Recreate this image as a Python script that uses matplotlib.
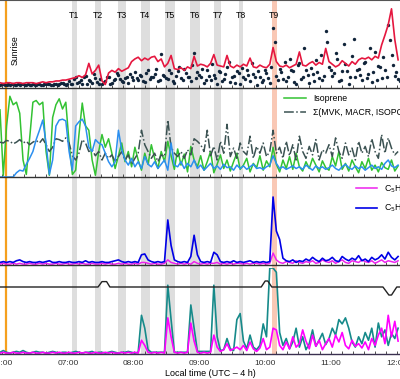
import numpy as np
import matplotlib
matplotlib.use("Agg")
import matplotlib.pyplot as plt
from matplotlib.ticker import MultipleLocator, FixedLocator

plt.rcParams['font.family'] = ['Liberation Sans', 'DejaVu Sans']

# time grid (hours, local time), 3-min steps
t = 5.97 + 0.05 * np.arange(122)

# panel 1: red line and dots (arbitrary units, % of panel)
red = [6,5,6,6,5,6,6,5,6,6, 6,5,6,7,6,7,7,8,8,9,
       9,10,11,12,14,12,15,28,16,20, 26,8,4,17,20,18,22,19,21,23,
       30,33,35,31,34,32,35,36,30,33, 24,28,37,22,21,23,20,24,22,36,
       25,27,26,24,28,38,26,25,24,37, 25,23,26,24,27,25,34,24,23,26,
       24,23,27,46,30,25,24,26,23,25, 27,41,26,25,28,30,26,29,27,45,
       30,27,24,26,31,28,25,30,27,32, 34,33,35,32,36,34,49,60,72,90,
       55,32]
dots_a = [3,4,3,3,4,3,3,4,3,3,4,3,4,3,4,4,3,5,4,6,3,
          8,5,12,7,4,14,9,6,11,5, 4,8,13,6,10,15,8,11,6,12,
          18,9,14,7,20,12,16,8,39,14, 10,17,6,19,11,22,13,8,40,18,
          12,6,20,9,15,4,18,10,24,7, 14,19,5,12,21,8,16,3,13,9,
          17,6,68,14,22,10,8,33,19,5, 28,12,20,6,16,32,11,9,65,24,
          14,40,8,19,27,5,36,12,22,9, 30,16,7,41,25,11,20,72,38,14,10]
dots_b = [4,3,4,4,3,4,5,3,4,3,3,4,3,5,4,3,4,3,6,4,5,
          4,10,6,9,13,5,8,16,7,10, 7,12,5,9,17,10,7,13,16,9,
          11,15,8,17,10,13,22,9,15,11, 20,8,14,24,9,17,12,26,11,15,
          22,9,14,27,11,19,8,16,30,12, 6,17,23,10,15,28,12,19,7,20,
          11,24,52,9,18,29,13,21,7,26, 10,45,15,23,8,18,38,14,52,20,
          17,33,9,50,19,12,56,21,15,28, 11,45,18,9,24,35,13,55,26,18,8]

# panel 2
isoprene = [79,2,60,95,85,88,75,20,3,45, 88,90,85,88,30,2,70,85,92,80,
            88,40,3,8,50,87,60,55,20,2, 30,50,35,45,28,10,25,40,18,30,
            12,35,20,8,28,15,38,22,10,30, 18,42,25,9,33,14,27,6,36,20,
            12,25,8,18,30,5,15,26,10,20, 7,18,28,9,14,22,6,16,11,25,
            8,19,12,35,15,6,20,10,24,9, 28,12,7,18,10,22,14,6,19,11,
            8,24,13,30,9,16,7,20,12,5, 18,10,22,8,14,6,17,11,9,20,7,13]
blue2 = [0,0,0,0,0,5,8,7,15,22, 30,44,55,67,40,3,20,60,67,68,
         66,30,8,60,65,68,60,35,30,44, 40,38,28,18,12,18,55,32,20,14,
         22,12,18,10,24,15,12,18,10,15, 20,8,40,14,12,18,10,16,12,20,
         10,14,8,12,16,10,13,9,15,11, 12,8,14,10,13,9,12,15,10,11,
         9,12,14,25,16,10,12,9,11,13, 10,12,9,14,11,8,13,10,12,9,
         11,14,10,8,12,15,11,9,13,10, 12,8,11,14,10,12,9,16,20,13,11,14]
oxid = [41,40,43,42,39,41,44,40,42,38, 41,43,40,45,38,30,35,45,44,42,
        46,40,25,20,28,44,40,30,32,25, 30,20,28,22,26,18,24,30,20,26,
        15,22,28,55,38,30,22,28,18,26, 24,67,35,28,24,30,22,32,26,45,
        42,38,30,55,25,36,20,42,28,62, 24,34,22,40,30,26,48,22,36,28,
        40,24,30,55,28,35,22,42,25,38, 20,48,30,22,36,26,44,20,32,28,
        38,24,46,30,22,40,26,34,20,42, 28,36,24,45,30,22,50,28,46,34,26,30]

# panel 3
blue3 = [3,4,3,4,3,5,6,4,3,4, 3,3,4,3,4,5,3,3,4,3,
         3,4,3,3,4,3,5,3,4,3, 3,4,3,3,4,5,6,4,3,4,
         3,4,3,12,13,6,4,3,4,3, 4,53,23,6,4,3,4,3,10,35,
         12,4,3,4,3,15,12,4,3,4, 3,5,3,4,3,4,5,3,4,3,
         4,3,4,80,40,30,8,5,4,6, 3,5,4,7,5,9,6,4,8,5,
         6,9,5,4,10,7,5,8,6,11, 5,7,4,9,6,8,12,7,15,9,6,10]
mag3 = [1,2,1,1,2,1,2,1,1,2, 1,1,2,1,2,1,1,2,1,1,
        2,1,1,2,1,2,1,1,2,1, 1,2,1,2,1,1,2,1,2,1,
        1,2,1,3,3,2,1,2,1,1, 2,6,3,2,1,2,1,2,1,4,
        2,1,2,1,2,2,3,1,2,1, 2,1,2,2,1,2,1,2,2,1,
        2,1,2,14,6,3,2,4,3,2, 5,3,2,4,3,5,2,3,6,4,
        3,5,2,4,6,3,2,5,4,3, 6,4,3,5,2,4,6,3,5,4,3,5]

# panel 4: step line
sw_t = [5.9, 7.46, 7.52, 7.59, 7.64, 9.94, 10.0, 10.04, 10.1, 11.79, 11.88, 11.92, 12.0, 12.1]
sw_v = [0, 0, 0.45, 0.45, 0, 0, 0.5, 0.5, 0, 0, -0.67, -0.67, 0, 0]

# panel 5
teal = [2,4,2,1,2,3,2,4,2,1, 2,3,2,2,1,2,3,2,1,2,
        2,1,2,3,2,1,2,2,3,1, 2,2,1,2,3,2,1,2,2,3,
        2,1,2,45,30,5,2,2,2,2, 2,80,40,2,2,2,2,2,57,30,
        3,3,3,3,3,80,20,4,5,18, 6,4,40,47,15,6,22,8,5,10,
        35,20,100,100,95,25,10,18,6,14, 30,8,20,5,12,28,9,16,24,11,
        18,30,22,40,35,42,30,14,8,20, 12,25,16,30,8,36,20,28,10,24,18,30]
mag5 = [1,2,1,1,2,1,1,2,1,1, 2,1,1,2,1,1,2,1,2,1,
        1,2,1,1,2,1,2,1,1,2, 1,1,2,1,2,1,1,2,1,2,
        1,2,1,16,10,2,1,2,1,2, 1,42,20,2,1,2,1,2,36,15,
        2,1,2,1,2,22,8,3,5,12, 4,6,8,5,10,4,14,6,3,7,
        18,5,8,30,28,10,5,14,6,20, 8,12,28,15,6,22,9,16,5,12,
        18,8,22,14,25,10,6,16,9,12, 7,14,5,18,10,22,30,12,45,20,38,15]

# sampling periods
band_lo = [7.064, 7.41, 7.76, 8.11, 8.48, 8.86, 9.22, 9.60, 10.10]
band_hi = [7.14, 7.50, 7.88, 8.25, 8.63, 9.01, 9.33, 9.66, 10.18]
band_names = ['T1', 'T2', 'T3', 'T4', 'T5', 'T6', 'T7', 'T8', 'T9']
sunrise = 6.06

xlim = (5.97, 5.97 + 400 / 65.8)
H = 379.0


def pos(top, bottom):
    return [0, (H - bottom) / H, 1, (bottom - top) / H]


def xfrac(h):
    return (h - xlim[0]) / (xlim[1] - xlim[0])


fig = plt.figure(figsize=(4, 3.79), dpi=100)

bg = fig.add_axes(pos(0, 354))
bg.set_xlim(xlim)
bg.axis('off')
for name, lo, hi in zip(band_names, band_lo, band_hi):
    c = '#f9c8b5' if name == 'T9' else '#dedede'
    bg.axvspan(lo, hi, color=c, lw=0)
    fig.text(xfrac((lo + hi) / 2), 1 - 16 / H, name, ha='center', va='center', fontsize=6.3)
bg.axvline(sunrise, color='#f5a01e', lw=1.6)
fig.text(15 / 400, 1 - 50 / H, 'Sunrise', rotation=90, ha='center', va='center', fontsize=6.3)


def style(ax, labels=False, top=False):
    ax.set_xlim(xlim)
    ax.set_ylim(0, 100)
    ax.patch.set_alpha(0)
    for s in ['left', 'right']:
        ax.spines[s].set_visible(False)
    ax.spines['top'].set_visible(top)
    ax.spines['bottom'].set_color('#333333')
    ax.spines['top'].set_color('#555555')
    ax.spines['bottom'].set_linewidth(1.0)
    ax.set_yticks([])
    ax.xaxis.set_major_locator(FixedLocator([6, 7, 8, 9, 10, 11, 12]))
    ax.xaxis.set_minor_locator(MultipleLocator(1 / 6))
    ax.tick_params(axis='x', which='both', direction='in', length=2.5, width=0.6,
                   colors='#333333', labelsize=6, pad=4)
    if labels:
        ax.set_xticklabels(['06:00', '07:00', '08:00', '09:00', '10:00', '11:00', '12:00'])
    else:
        ax.set_xticklabels([])


ax1 = fig.add_axes(pos(0, 88))
style(ax1, top=True)
ax1.plot(t, red, color='#e5173f', lw=1.2, zorder=3)
ax1.scatter(t, dots_a, s=6, color='#10243a', zorder=2, lw=0)
ax1.scatter(t + 0.025, dots_b, s=6, color='#10243a', zorder=2, lw=0)

ax2 = fig.add_axes(pos(92, 177))
style(ax2)
ax2.plot(t, isoprene, color='#33c233', lw=1.1, label='Isoprene')
ax2.plot(t, oxid, color='#3b5252', lw=1.1, ls='-.', label='Σ(MVK, MACR, ISOPOOH)')
ax2.plot(t, blue2, color='#2b8ff0', lw=1.1)
h, l = ax2.get_legend_handles_labels()
ax2.legend(h, l, loc='upper left', bbox_to_anchor=(280 / 400, 1.02), frameon=False,
           fontsize=6.3, handlelength=2.6, labelspacing=0.6, borderaxespad=0)

ax3 = fig.add_axes(pos(180, 265))
style(ax3)
ax3.plot(t, mag3, color='#ee22ee', lw=1.1, label='C$_5$H$_{10}$O$_3$')
ax3.plot(t, blue3, color='#0000e6', lw=1.2, label='C$_5$H$_8$O$_3$')
ax3.legend(loc='upper left', bbox_to_anchor=(352 / 400, 1.0), frameon=False,
           fontsize=6.3, handlelength=2.4, labelspacing=0.9, borderaxespad=0)

ax5 = fig.add_axes(pos(268, 354))
style(ax5, labels=True)
ax5.plot(t, teal, color='#168a8a', lw=1.2)
ax5.plot(t, mag5, color='#ff00ff', lw=1.2)
ax5.spines['bottom'].set_color('#3a3050')

ax4 = fig.add_axes(pos(275, 299))
ax4.set_xlim(xlim)
ax4.set_ylim(-1, 1)
ax4.axis('off')
ax4.plot(sw_t, sw_v, color='#222222', lw=1.0)

fig.text(210 / 400, 1 - 373 / H, 'Local time (UTC – 4 h)', ha='center', va='center', fontsize=6.5)

fig.savefig('out.png', dpi=100)
